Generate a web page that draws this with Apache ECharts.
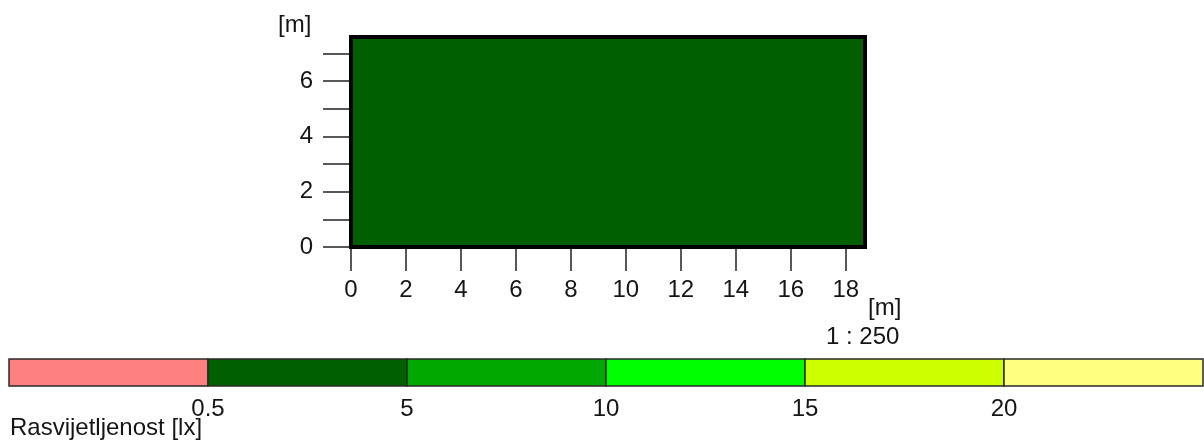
<!DOCTYPE html>
<html>
<head>
<meta charset="utf-8">
<script src="https://cdn.jsdelivr.net/npm/echarts@6/dist/echarts.min.js"></script>
<style>
  html, body { margin: 0; padding: 0; background: #fff; }
  #chart { width: 1204px; height: 442px; }
</style>
</head>
<body>
<div id="chart"></div>
<script>
// Room outline (metres)
const roomLength = 18.7;
const roomWidth = 7.6;
const roomColor = '#006000';

// Axis ticks and labels (metres)
const xTicks = [0, 2, 4, 6, 8, 10, 12, 14, 16, 18];
const yTicks = [0, 1, 2, 3, 4, 5, 6, 7];
const yLabels = [0, 2, 4, 6];

// Illuminance colour scale
const scaleColors = ['#ff8080', '#006000', '#00a800', '#00ff00', '#ccff00', '#ffff80'];
const scaleThresholds = ['0.5', '5', '10', '15', '20'];

const FONT = 'Liberation Sans, Arial, sans-serif';
const TXT = '#151515';
const FS = 24;

const chart = echarts.init(document.getElementById('chart'), null, { renderer: 'canvas' });

// Floor plan of the room, drawn through the metre axes
const rectItem = (params, api) => {
  const p0 = api.coord([api.value(0), api.value(3)]);
  const p1 = api.coord([api.value(2), api.value(1)]);
  return {
    type: 'rect',
    shape: { x: p0[0], y: p0[1], width: p1[0] - p0[0], height: p1[1] - p0[1] },
    style: { fill: roomColor, stroke: '#000', lineWidth: 4 }
  };
};

// One band of the illuminance colour scale
const segItem = (params, api) => {
  const p0 = api.coord([api.value(0), 1]);
  const p1 = api.coord([api.value(1), 0]);
  return {
    type: 'rect',
    shape: { x: p0[0], y: p0[1], width: p1[0] - p0[0], height: p1[1] - p0[1] },
    style: { fill: scaleColors[api.value(2)], stroke: '#2a2a2a', lineWidth: 1.5 }
  };
};

const titleStyle = { fontSize: FS, fontWeight: 'normal', color: TXT, fontFamily: FONT };

chart.setOption({
  animation: false,
  backgroundColor: '#fff',
  textStyle: { fontFamily: FONT },
  title: [
    { text: '[m]', left: 278, top: 13, padding: 0, textStyle: titleStyle },
    { text: '[m]', left: 868, top: 296, padding: 0, textStyle: titleStyle },
    { text: '1 : 250', left: 826, top: 325, padding: 0, textStyle: titleStyle },
    { text: 'Rasvijetljenost [lx]', left: 10, top: 416, padding: 0, textStyle: titleStyle }
  ],
  grid: [
    { left: 351, top: 37, width: 514, height: 210, containLabel: false },
    { left: 9, top: 359, width: 1194, height: 27, containLabel: false }
  ],
  xAxis: [
    {
      gridIndex: 0, type: 'value', min: 0, max: roomLength,
      axisLine: { show: false },
      splitLine: { show: false },
      axisTick: { show: true, length: 24, customValues: xTicks, lineStyle: { color: '#222', width: 1.5 } },
      axisLabel: { customValues: xTicks, margin: 31, fontSize: FS, color: TXT, fontFamily: FONT }
    },
    {
      gridIndex: 1, type: 'value', min: 0, max: scaleColors.length,
      axisLine: { show: false },
      splitLine: { show: false },
      axisTick: { show: false },
      axisLabel: {
        customValues: scaleThresholds.map((_, i) => i + 1),
        formatter: v => scaleThresholds[Math.round(v) - 1],
        margin: 11, fontSize: FS, color: TXT, fontFamily: FONT
      }
    }
  ],
  yAxis: [
    {
      gridIndex: 0, type: 'value', min: 0, max: roomWidth,
      axisLine: { show: false },
      splitLine: { show: false },
      axisTick: { show: true, length: 28, customValues: yTicks, lineStyle: { color: '#222', width: 1.5 } },
      axisLabel: { customValues: yLabels, margin: 38, fontSize: FS, color: TXT, fontFamily: FONT }
    },
    {
      gridIndex: 1, type: 'value', min: 0, max: 1,
      show: false
    }
  ],
  series: [
    {
      type: 'custom', xAxisIndex: 0, yAxisIndex: 0,
      renderItem: rectItem,
      data: [[0, 0, roomLength, roomWidth]],
      silent: true
    },
    {
      type: 'custom', xAxisIndex: 1, yAxisIndex: 1,
      renderItem: segItem,
      data: scaleColors.map((c, i) => [i, i + 1, i]),
      silent: true
    }
  ]
});
</script>
</body>
</html>
